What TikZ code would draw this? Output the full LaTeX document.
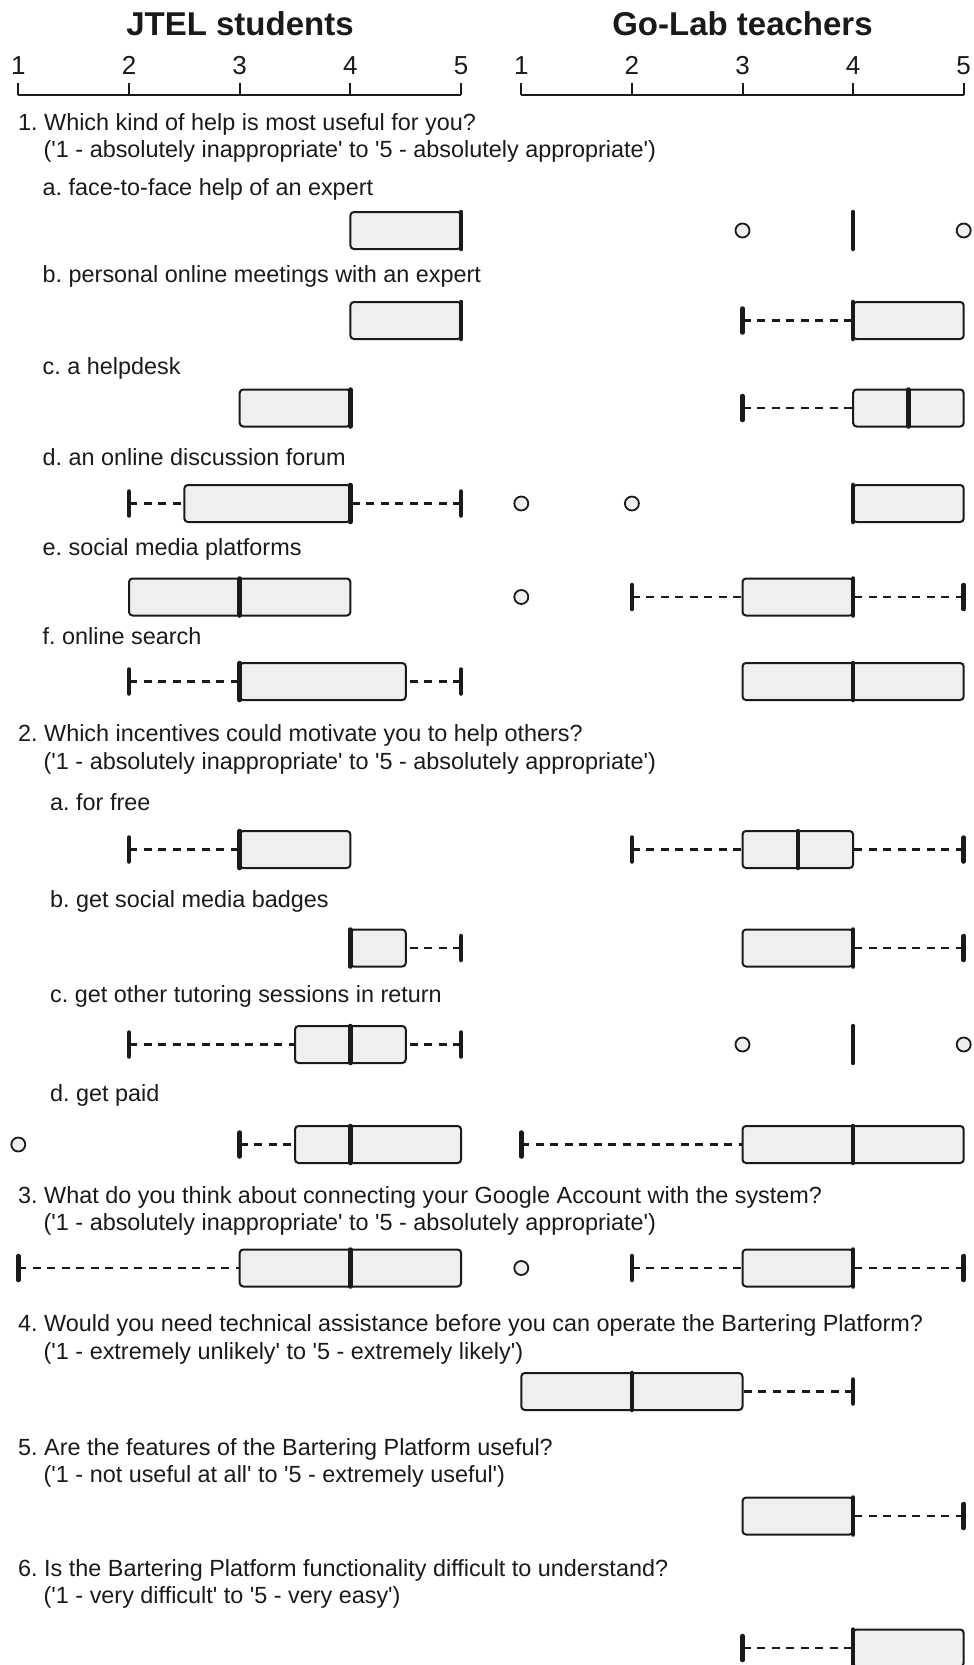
\documentclass[tikz,border=0pt]{standalone}
\usepackage{fontspec}
\newfontfamily\labelfont{Liberation Sans}
\usetikzlibrary{positioning}
\definecolor{ink}{HTML}{1A1A1A}
\definecolor{boxfill}{HTML}{EEEFEE}

\begin{document}
\begin{tikzpicture}[x=1pt, y=-1pt]
      \tikzstyle{qtext} = [anchor=base west, inner sep=0pt, text=ink, font=\labelfont\frenchspacing\fontsize{23.4}{28}\selectfont]
      \tikzstyle{headtext} = [anchor=base, inner sep=0pt, text=ink, font=\labelfont\bfseries\fontsize{33}{40}\selectfont]
      \tikzstyle{ticklabel} = [anchor=base, inner sep=0pt, text=ink, font=\labelfont\fontsize{26}{30}\selectfont]
      \tikzstyle{axisline} = [draw=ink, line width=2pt]
      \tikzstyle{iqrbox} = [draw=ink, fill=boxfill, line width=2pt, rounded corners=3.5pt]
      \tikzstyle{medianline} = [draw=ink, line width=4.5pt, line cap=round]
      \tikzstyle{whiskerline} = [draw=ink, line width=2.2pt, dash pattern=on 8pt off 6.5pt]
      \tikzstyle{whiskercap} = [draw=ink, line width=4.5pt, line cap=round]
      \tikzstyle{outlier} = [draw=ink, fill=boxfill, line width=1.8pt]

      \useasboundingbox (0,0) rectangle (974,1665);

      % group titles
      \node (jtel) [headtext] at (240,35) {JTEL students};
      \node (golab) [headtext] at (742.5,35) {Go-Lab teachers};

      % questions
      \node (q1) [qtext] at (18,130) {1. Which kind of help is most useful for you?};
      \node (q1scale) [qtext] at (43.5,157) {('1 - absolutely inappropriate' to '5 - absolutely appropriate')};
      \node (q1a) [qtext] at (42.5,195) {a. face-to-face help of an expert};
      \node (q1b) [qtext] at (42.5,282) {b. personal online meetings with an expert};
      \node (q1c) [qtext] at (42.5,374.5) {c. a helpdesk};
      \node (q1d) [qtext] at (42.5,465) {d. an online discussion forum};
      \node (q1e) [qtext] at (42.5,555.5) {e. social media platforms};
      \node (q1f) [qtext] at (42.5,644) {f. online search};

      \node (q2) [qtext] at (18,741.5) {2. Which incentives could motivate you to help others?};
      \node (q2scale) [qtext] at (43.5,769) {('1 - absolutely inappropriate' to '5 - absolutely appropriate')};
      \node (q2a) [qtext] at (50,810.5) {a. for free};
      \node (q2b) [qtext] at (50,907) {b. get social media badges};
      \node (q2c) [qtext] at (50,1002) {c. get other tutoring sessions in return};
      \node (q2d) [qtext] at (50,1101) {d. get paid};

      \node (q3) [qtext] at (18,1203) {3. What do you think about connecting your Google Account with the system?};
      \node (q3scale) [qtext] at (43.5,1230.5) {('1 - absolutely inappropriate' to '5 - absolutely appropriate')};
      \node (q4) [qtext] at (18,1331.5) {4. Would you need technical assistance before you can operate the Bartering Platform?};
      \node (q4scale) [qtext] at (43.5,1359) {('1 - extremely unlikely' to '5 - extremely likely')};
      \node (q5) [qtext] at (18,1455) {5. Are the features of the Bartering Platform useful?};
      \node (q5scale) [qtext] at (43.5,1482.5) {('1 - not useful at all' to '5 - extremely useful')};
      \node (q6) [qtext] at (18,1576) {6. Is the Bartering Platform functionality difficult to understand?};
      \node (q6scale) [qtext] at (43.5,1603.5) {('1 - very difficult' to '5 - very easy')};

      % JTEL students
      \begin{scope}[xshift=-92.4pt, x=110.7pt]
        \draw [axisline] (1,95) -- (5,95);
        \foreach \v in {1,...,5} {
          \draw [axisline] (\v,95) -- (\v,83);
          \node (jtel-\v) [ticklabel] at (\v,74) {\v};
        }
        \foreach \y/\a/\b in {503.5/2.5/2, 503.5/4/5, 681.5/3/2, 681.5/4.5/5, 849.5/3/2, 948/4.5/5,
                              1044.5/3.5/2, 1044.5/4.5/5, 1144.5/3.5/3, 1268/3/1} {
          \draw [whiskerline] (\b,\y) -- (\a,\y);
          \draw [whiskercap] (\b,\y-12) -- (\b,\y+12);
        }
        \foreach \y/\lo/\md/\hi in {230.5/4/5/5, 320.5/4/5/5, 408/3/4/4, 503.5/2.5/4/4, 597/2/3/4,
                                    681.5/3/3/4.5, 849.5/3/3/4, 948/4/4/4.5, 1044.5/3.5/4/4.5,
                                    1144.5/3.5/4/5, 1268/3/4/5} {
          \draw [iqrbox] (\lo,\y-18.5) rectangle (\hi,\y+18.5);
          \draw [medianline] (\md,\y-18.5) -- (\md,\y+18.5);
        }
        \draw [outlier] (1,1144.5) circle [radius=7pt];
      \end{scope}

      % Go-Lab teachers
      \begin{scope}[xshift=410.7pt, x=110.6pt]
        \draw [axisline] (1,95) -- (5,95);
        \foreach \v in {1,...,5} {
          \draw [axisline] (\v,95) -- (\v,83);
          \node (golab-\v) [ticklabel] at (\v,74) {\v};
        }
        \foreach \y/\a/\b in {320.5/4/3, 408/4/3, 597/3/2, 597/4/5, 849.5/3/2, 849.5/4/5, 948/4/5,
                              1144.5/3/1, 1268/3/2, 1268/4/5, 1391.5/3/4, 1516/4/5, 1648/4/3} {
          \draw [whiskerline] (\b,\y) -- (\a,\y);
          \draw [whiskercap] (\b,\y-12) -- (\b,\y+12);
        }
        \foreach \y/\lo/\md/\hi in {320.5/4/4/5, 408/4/4.5/5, 503.5/4/4/5, 597/3/4/4, 681.5/3/4/5,
                                    849.5/3/3.5/4, 948/3/4/4, 1144.5/3/4/5, 1268/3/4/4,
                                    1391.5/1/2/3, 1516/3/4/4, 1648/4/4/5} {
          \draw [iqrbox] (\lo,\y-18.5) rectangle (\hi,\y+18.5);
          \draw [medianline] (\md,\y-18.5) -- (\md,\y+18.5);
        }
        \draw [medianline] (4,230.5-18.5) -- (4,230.5+18.5);
        \draw [medianline] (4,1044.5-18.5) -- (4,1044.5+18.5);
        \foreach \y/\v in {230.5/3, 230.5/5, 503.5/1, 503.5/2, 597/1, 1044.5/3, 1044.5/5, 1268/1} {
          \draw [outlier] (\v,\y) circle [radius=7pt];
        }
      \end{scope}

    \end{tikzpicture}
\end{document}
